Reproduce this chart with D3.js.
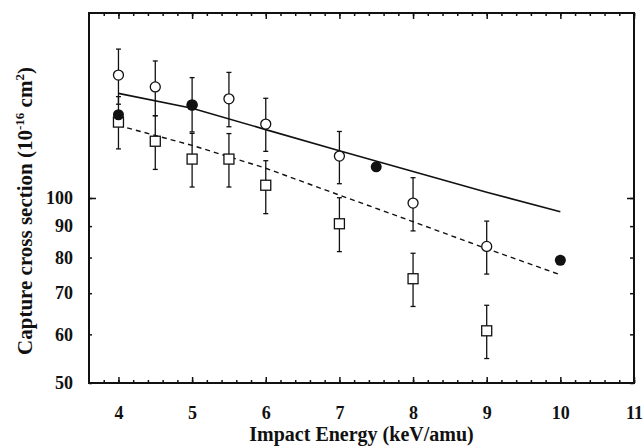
<!DOCTYPE html>
<html>
<head>
<meta charset="utf-8">
<script src="https://cdn.jsdelivr.net/npm/d3@7"></script>
<style>
    body { margin: 0; background: #fff; }
    svg text { font-family: "Liberation Serif", "Times New Roman", serif; font-weight: bold; fill: #111; }
</style>
</head>
<body>
<div id="chart"></div>
<script>
// ---- data ----
let xTicks = [4, 5, 6, 7, 8, 9, 10, 11];
let yTicks = [50, 60, 70, 80, 90, 100];

// open circles
let openE = [4, 4.5, 5, 5.5, 6, 7, 8, 9];
let openY = [158.5, 151.6, 141.8, 145.0, 131.9, 117.0, 98.1, 83.4];
let openLo = [142.1, 136.1, 128.1, 130.6, 119.1, 105.5, 88.4, 75.2];
let openHi = [174.7, 167.1, 157.0, 160.1, 145.3, 128.3, 107.9, 91.7];

// open squares
let sqE = [4, 4.5, 5, 5.5, 6, 7, 8, 9];
let sqY = [132.9, 123.7, 115.7, 115.7, 104.9, 90.8, 73.9, 60.8];
let sqLo = [120.2, 111.3, 104.2, 104.2, 94.3, 81.8, 66.6, 54.8];
let sqHi = [146.2, 136.1, 127.4, 127.3, 115.0, 100.1, 81.3, 66.9];

// filled circles
let fillE = [4, 5, 7.5, 10];
let fillY = [136.6, 141.5, 112.4, 79.2];

// theory curves
let curveE = [4, 5, 6, 7, 8, 9, 10];
let solidY = [148.0, 140.0, 129.2, 119.4, 110.4, 102.2, 95.0];
let dashY = [131.2, 121.8, 111.8, 101.1, 91.5, 82.7, 75.0];

// ---- drawing ----
let margin = {top: 13, right: 10, bottom: 65, left: 89};
let width = 644 - margin.left - margin.right;
let height = 448 - margin.top - margin.bottom;

let svg = d3.select("#chart").append("svg")
    .attr("width", 644)
    .attr("height", 448);

let g = svg.append("g")
    .attr("transform", `translate(${margin.left},${margin.top})`);

let x = d3.scaleLinear().domain([3.6, 11]).range([0, width]);
let y = d3.scaleLog().domain([50, 200]).range([height, 0]);

// minor x ticks every 0.2
let xMinor = d3.range(3.8, 11.0001, 0.2).map(d => +d.toFixed(1));

// bottom axis
g.append("g")
    .attr("class", "x-axis")
    .attr("transform", `translate(0,${height})`)
    .call(d3.axisBottom(x).tickValues(xTicks).tickSize(-6).tickPadding(23).tickFormat(d3.format("d")));

g.append("g")
    .attr("transform", `translate(0,${height})`)
    .call(d3.axisBottom(x).tickValues(xMinor).tickSize(-3).tickFormat(""));

// top axis
g.append("g")
    .call(d3.axisTop(x).tickValues(xTicks).tickSize(-6).tickFormat(""));
g.append("g")
    .call(d3.axisTop(x).tickValues(xMinor).tickSize(-3).tickFormat(""));

// left axis
g.append("g")
    .attr("class", "y-axis")
    .call(d3.axisLeft(y).tickValues(yTicks).tickSize(-3).tickPadding(16).tickFormat(d3.format("d")));
g.append("g")
    .call(d3.axisLeft(y).tickValues([100]).tickSize(-7).tickFormat(""));

// right axis
g.append("g")
    .attr("transform", `translate(${width},0)`)
    .call(d3.axisRight(y).tickValues(yTicks).tickSize(-4).tickFormat(""));
g.append("g")
    .attr("transform", `translate(${width},0)`)
    .call(d3.axisRight(y).tickValues([100]).tickSize(-7).tickFormat(""));

g.selectAll(".domain").remove();
g.selectAll(".tick line").attr("stroke", "#111").attr("stroke-width", 1.5);
g.selectAll(".tick text").style("font-size", "18px");

// frame
g.append("rect")
    .attr("width", width)
    .attr("height", height)
    .attr("fill", "none")
    .attr("stroke", "#111")
    .attr("stroke-width", 2);

// curves
let line = d3.line()
    .x((d, i) => x(curveE[i]))
    .y(d => y(d));

g.append("path")
    .attr("d", line(solidY))
    .attr("fill", "none")
    .attr("stroke", "#111")
    .attr("stroke-width", 1.6);

g.append("path")
    .attr("d", line(dashY))
    .attr("fill", "none")
    .attr("stroke", "#111")
    .attr("stroke-width", 1.4)
    .attr("stroke-dasharray", "5,4");

// error bars
function errorBars(es, lo, hi) {
    let bars = g.append("g");
    es.forEach((e, i) => {
        bars.append("line")
            .attr("x1", x(e)).attr("x2", x(e))
            .attr("y1", y(lo[i])).attr("y2", y(hi[i]))
            .attr("stroke", "#111").attr("stroke-width", 1.3);
        [lo[i], hi[i]].forEach(v => {
            bars.append("line")
                .attr("x1", x(e) - 2.5).attr("x2", x(e) + 2.5)
                .attr("y1", y(v)).attr("y2", y(v))
                .attr("stroke", "#111").attr("stroke-width", 1.3);
        });
    });
}
errorBars(openE, openLo, openHi);
errorBars(sqE, sqLo, sqHi);

// squares
g.selectAll(".sq")
    .data(sqY)
    .enter().append("rect")
    .attr("class", "sq")
    .attr("x", (d, i) => x(sqE[i]) - 5)
    .attr("y", d => y(d) - 5)
    .attr("width", 10)
    .attr("height", 10)
    .attr("fill", "#fff")
    .attr("stroke", "#111")
    .attr("stroke-width", 1.3);

// open circles
g.selectAll(".open")
    .data(openY)
    .enter().append("circle")
    .attr("class", "open")
    .attr("cx", (d, i) => x(openE[i]))
    .attr("cy", d => y(d))
    .attr("r", 5)
    .attr("fill", "#fff")
    .attr("stroke", "#111")
    .attr("stroke-width", 1.3);

// filled circles
g.selectAll(".filled")
    .data(fillY)
    .enter().append("circle")
    .attr("class", "filled")
    .attr("cx", (d, i) => x(fillE[i]))
    .attr("cy", d => y(d))
    .attr("r", 5.5)
    .attr("fill", "#111");

// axis labels
svg.append("text")
    .attr("x", margin.left + x(7.3))
    .attr("y", 441)
    .attr("text-anchor", "middle")
    .style("font-size", "20px")
    .text("Impact Energy (keV/amu)");

let yLabel = svg.append("text")
    .attr("transform", "translate(32,211) rotate(-90)")
    .attr("text-anchor", "middle")
    .style("font-size", "21px");
yLabel.append("tspan").text("Capture cross section (10");
yLabel.append("tspan").attr("dy", -8).style("font-size", "13px").text("-16");
yLabel.append("tspan").attr("dy", 8).text(" cm");
yLabel.append("tspan").attr("dy", -8).style("font-size", "13px").text("2");
yLabel.append("tspan").attr("dy", 8).text(")");
</script>
</body>
</html>
